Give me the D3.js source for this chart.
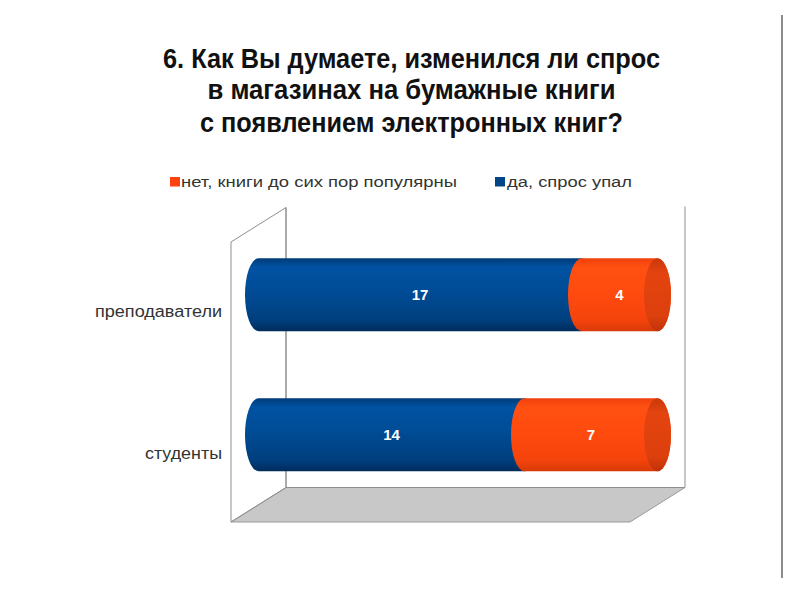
<!DOCTYPE html>
<html><head><meta charset="utf-8">
<script src="https://cdn.jsdelivr.net/npm/d3@7"></script>
<style>body{margin:0;background:#fff}svg{display:block}</style></head>
<body>
<svg id="c" width="800" height="600"></svg>
<script>
// ---- data ----
const categories = ["преподаватели", "студенты"];
const seriesNames = ["да, спрос упал", "нет, книги до сих пор популярны"];
const yesValues = [17, 14];   // да, спрос упал (blue)
const noValues = [4, 7];      // нет, книги до сих пор популярны (orange)
const titleLines = ["6. Как Вы думаете, изменился ли спрос", "в магазинах на бумажные книги", "с появлением электронных книг?"];
const seriesColors = ["#004586", "#ff420e"];

// ---- layout ----
const svg = d3.select("#c");
const W = 800, H = 600;
svg.append("rect").attr("width", W).attr("height", H).attr("fill", "#fff");

const x = d3.scaleLinear().domain([0, 21]).range([231, 630]);
const y = d3.scaleBand().domain(categories).range([242, 522]);
const depthX = 55, depthY = -34.5;
const bx = depthX / 2, by = depthY / 2;

// gradients
const defs = svg.append("defs");
function grad(id, stops) {
  const g = defs.append("linearGradient").attr("id", id).attr("x1", 0).attr("y1", 0).attr("x2", 0).attr("y2", 1);
  stops.forEach(s => g.append("stop").attr("offset", s[0]).attr("stop-color", s[1]));
}
grad("gBlue", [[0, "#003b78"], [0.12, "#0052a2"], [0.45, "#004c96"], [0.85, "#003f7e"], [1, "#002c5c"]]);
grad("gOrange", [[0, "#f0400c"], [0.12, "#ff5012"], [0.5, "#ff4a0e"], [0.85, "#f4430c"], [1, "#d93a08"]]);
grad("gCap", [[0, "#c8380a"], [0.2, "#e4440f"], [0.8, "#dc400d"], [1, "#c03208"]]);

// ---- 3D frame ----
const x0 = x.range()[0], x1 = x.range()[1];
const yT = y.range()[0], yB = y.range()[1];
const frame = svg.append("g").attr("stroke", "#8e8e8e").attr("stroke-width", 1).attr("fill", "none");
// floor
svg.insert("path", "g").attr("d", `M${x0},${yB} L${x0 + depthX},${yB + depthY} L${x1 + depthX},${yB + depthY} L${x1},${yB} Z`)
  .attr("fill", "#c8c8c8").attr("stroke", "#9a9a9a");
// side wall
frame.append("path").attr("d", `M${x0 + depthX},${yB + depthY} L${x0},${yB} L${x0},${yT} L${x0 + depthX},${yT + depthY} Z`);
// back wall edges
frame.append("path").attr("d", `M${x0 + depthX},${yT + depthY} L${x0 + depthX},${yB + depthY} L${x1 + depthX},${yB + depthY} L${x1 + depthX},${yT + depthY - 1}`);

// ---- bars (cylinders) ----
const bh = y.bandwidth() * 0.52, ry = bh / 2, rx = 13.5;
function seg(xs, xe, yc) {
  return `M${xs},${yc - ry} L${xe},${yc - ry} A${rx},${ry} 0 0 1 ${xe},${yc + ry} L${xs},${yc + ry} A${rx},${ry} 0 0 1 ${xs},${yc - ry} Z`;
}
const barsG = svg.append("g");
categories.forEach((c, i) => {
  const yc = y(c) + y.bandwidth() / 2 + by;
  const segs = [
    { v0: 0, v1: yesValues[i], fill: "url(#gBlue)", val: yesValues[i] },
    { v0: yesValues[i], v1: yesValues[i] + noValues[i], fill: "url(#gOrange)", val: noValues[i] }
  ];
  segs.forEach(s => {
    barsG.append("path").attr("d", seg(x(s.v0) + bx, x(s.v1) + bx, yc)).attr("fill", s.fill);
  });
  const endX = x(yesValues[i] + noValues[i]) + bx;
  barsG.append("ellipse").attr("cx", endX).attr("cy", yc).attr("rx", rx).attr("ry", ry).attr("fill", "url(#gCap)");
  segs.forEach(s => {
    barsG.append("text").attr("x", (x(s.v0) + x(s.v1)) / 2 + bx).attr("y", yc + 5.5)
      .attr("text-anchor", "middle").attr("fill", "#fff").attr("font-family", "Liberation Sans, Arial, sans-serif")
      .attr("font-weight", "bold").attr("font-size", 15).text(s.val);
  });
});

// ---- category labels ----
const labelLen = { "преподаватели": 127, "студенты": 77 };
categories.forEach((c, i) => {
  svg.append("text").attr("x", x0 - 9).attr("y", y(c) + y.bandwidth() / 2 + 5 + i * 2)
    .attr("text-anchor", "end").attr("fill", "#333").attr("font-family", "Liberation Sans, Arial, sans-serif")
    .attr("font-size", 16).attr("textLength", labelLen[c]).attr("lengthAdjust", "spacingAndGlyphs").text(c);
});

// ---- title ----
const titleBase = [67.5, 99, 131.5], titleLen = [497, 408, 423];
titleLines.forEach((t, i) => {
  svg.append("text").attr("x", 411.5).attr("y", titleBase[i]).attr("text-anchor", "middle")
    .attr("font-family", "Liberation Sans, Arial, sans-serif").attr("font-weight", "bold").attr("font-size", 27)
    .attr("fill", "#111").attr("textLength", titleLen[i]).attr("lengthAdjust", "spacingAndGlyphs").text(t);
});

// ---- legend ----
const legendItems = [
  { name: seriesNames[1], color: seriesColors[1], sx: 170, tx: 181, len: 276 },
  { name: seriesNames[0], color: seriesColors[0], sx: 495, tx: 507, len: 125 }
];
legendItems.forEach(d => {
  svg.append("rect").attr("x", d.sx).attr("y", 177).attr("width", 10).attr("height", 9.5).attr("fill", d.color);
  svg.append("text").attr("x", d.tx).attr("y", 187).attr("font-family", "Liberation Sans, Arial, sans-serif")
    .attr("font-size", 15.5).attr("fill", "#333").attr("textLength", d.len).attr("lengthAdjust", "spacingAndGlyphs").text(d.name);
});

// ---- slide edge line ----
svg.append("line").attr("x1", 782).attr("x2", 782).attr("y1", 15).attr("y2", 578).attr("stroke", "#8c8c8c").attr("stroke-width", 2);
</script>
</body></html>
